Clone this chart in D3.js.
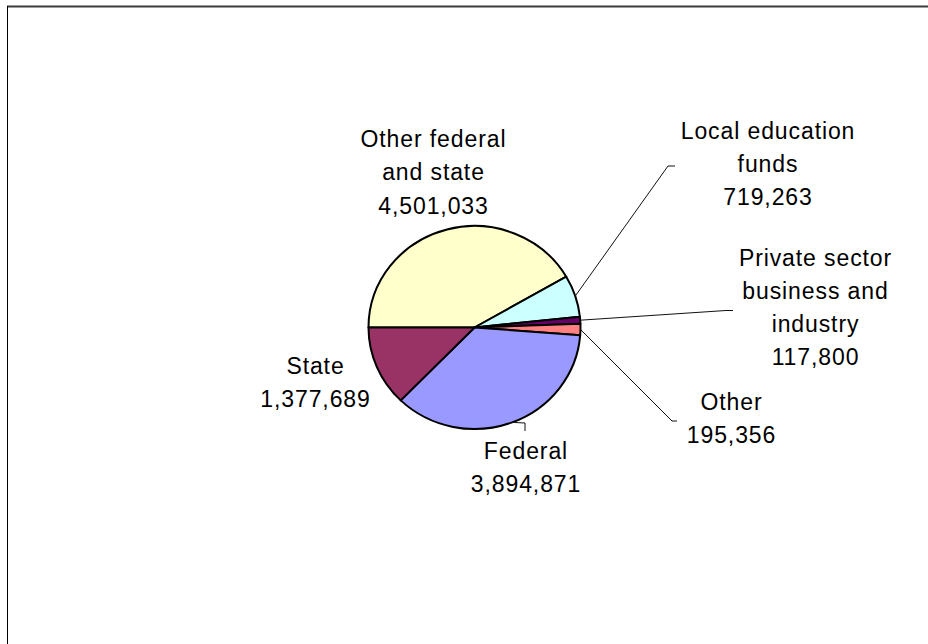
<!DOCTYPE html>
<html>
<head>
<meta charset="utf-8">
<script src="https://cdn.jsdelivr.net/npm/d3@7"></script>
<style>
  html, body { margin: 0; padding: 0; background: #ffffff; }
  svg { display: block; }
  text { font-family: "Liberation Sans", Arial, sans-serif; font-size: 23px; letter-spacing: 0.9px; fill: #000; }
</style>
</head>
<body>
<svg id="chart" width="928" height="644"></svg>
<script>
// Funding sources, in slice order starting from 9 o'clock going clockwise
const categories = ["Other federal and state", "Local education funds", "Private sector business and industry", "Other", "Federal", "State"];
const values = [4501033, 719263, 117800, 195356, 3894871, 1377689];
const labelLines = [
  ["Other federal", "and state"],
  ["Local education", "funds"],
  ["Private sector", "business and", "industry"],
  ["Other"],
  ["Federal"],
  ["State"]
];
const sliceColors = ["#FFFFCC", "#CCFFFF", "#660066", "#FF8080", "#9999FF", "#993366"];

// Label layout: centre x, first baseline y
const labelPos = [
  [433, 147.3], [767.5, 139], [815, 265.7], [731, 410], [525.5, 459], [315, 374.3]
];
// Leader line bends (after the point on the pie rim); empty means no leader
const leaderBends = [
  [], [[668, 166], [675, 166]], [[726, 310.5], [733, 310.5]], [[672, 421], [677, 421]], [[525, 423], [525, 431]], []
];

const svg = d3.select("#chart");
const W = 928, H = 644;

// Frame: dark top rule and left rule
svg.append("line").attr("x1", 7).attr("x2", W).attr("y1", 6.5).attr("y2", 6.5)
  .attr("stroke", "#3a3a3a").attr("stroke-width", 2);
svg.append("line").attr("x1", 7.5).attr("x2", 7.5).attr("y1", 6).attr("y2", H)
  .attr("stroke", "#000").attr("stroke-width", 1);

const cx = 474.5, cy = 327.5, ry = 101.5, rx = 106;

const pie = d3.pie().sort(null).value(d => d)
  .startAngle(-Math.PI / 2).endAngle(1.5 * Math.PI);
const arcs = pie(values);
const arc = d3.arc().innerRadius(0).outerRadius(ry);

const g = svg.append("g")
  .attr("transform", `translate(${cx},${cy}) scale(${rx / ry},1)`);
g.selectAll("path").data(arcs).join("path")
  .attr("d", arc)
  .attr("fill", (d, i) => sliceColors[i])
  .attr("stroke", "#000")
  .attr("stroke-width", 2)
  .attr("stroke-linejoin", "round")
  .attr("vector-effect", "non-scaling-stroke");

// Leader lines from each slice's rim midpoint
const rim = a => [cx + rx * Math.sin(a), cy - ry * Math.cos(a)];
arcs.forEach((d, i) => {
  if (!leaderBends[i].length) return;
  const mid = (d.startAngle + d.endAngle) / 2;
  const pts = [rim(mid)].concat(leaderBends[i]);
  svg.append("path")
    .attr("d", d3.line()(pts))
    .attr("fill", "none")
    .attr("stroke", "#111")
    .attr("stroke-width", 1);
});

// Labels: category lines followed by the value
const fmt = d3.format(",");
const lineGap = 33.1;
arcs.forEach((d, i) => {
  const lines = labelLines[i].concat([fmt(values[i])]);
  const t = svg.append("text")
    .attr("text-anchor", "middle")
    .attr("x", labelPos[i][0] + 0.5)
    .attr("y", labelPos[i][1]);
  lines.forEach((s, k) => {
    t.append("tspan")
      .attr("x", labelPos[i][0] + 0.5)
      .attr("y", labelPos[i][1] + k * lineGap)
      .text(s);
  });
});
</script>
</body>
</html>
